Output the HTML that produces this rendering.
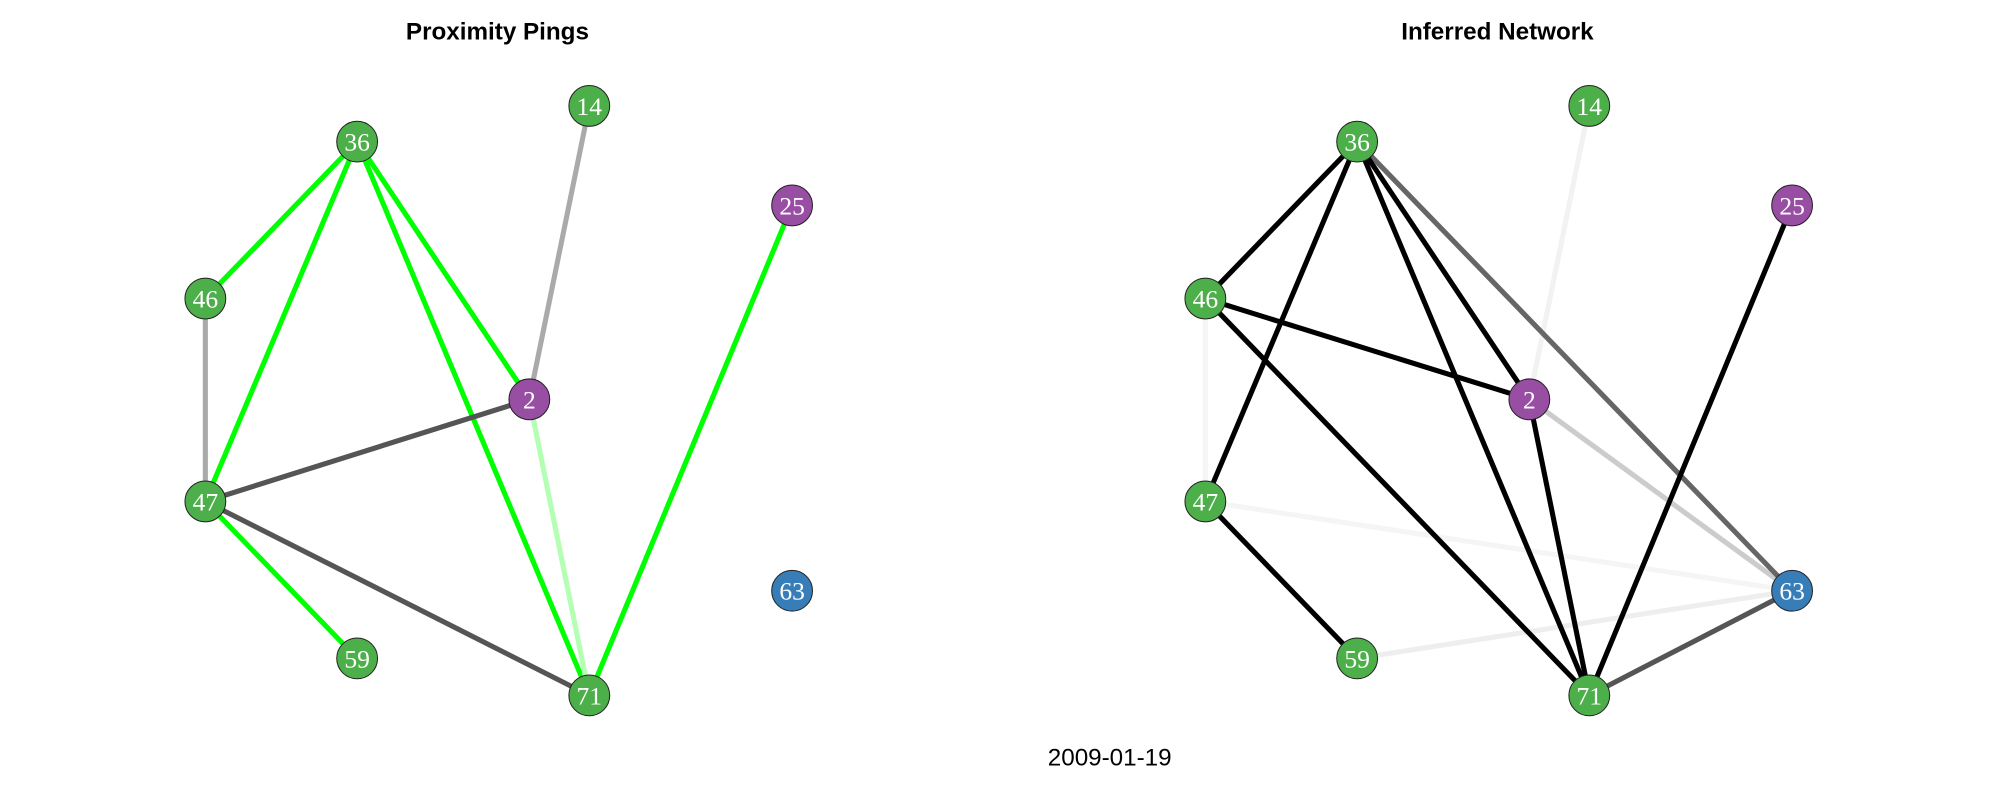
<!DOCTYPE html>
<html><head><meta charset="utf-8"><style>
html,body{margin:0;padding:0;background:#fff;}
svg{display:block;}
</style></head><body>
<svg id="chart" width="2000" height="800" viewBox="0 0 1568 627" preserveAspectRatio="none" xmlns="http://www.w3.org/2000/svg">
<text x="390" y="31" text-anchor="middle" font-family="Liberation Sans, sans-serif" font-weight="bold" font-size="19">Proximity Pings</text>
<text x="1174" y="31" text-anchor="middle" font-family="Liberation Sans, sans-serif" font-weight="bold" font-size="19">Inferred Network</text>
<text x="870" y="600" text-anchor="middle" font-family="Liberation Sans, sans-serif" font-size="19">2009-01-19</text>
<g id="left"></g>
<g id="right"></g>
</svg>
<script>
const nodeIds = ["36","14","25","46","2","47","63","59","71"];
const nodeX = [280,462,621,161,415,161,621,280,462];
const nodeY = [111,83,161,234,313,393,463,516,545];
const nodeColors = ["#4daf4a","#4daf4a","#984ea3","#4daf4a","#984ea3","#4daf4a","#377eb8","#4daf4a","#4daf4a"];
const leftEdges = [["36","46","#00ff00"],["36","47","#00ff00"],["36","2","#00ff00"],["36","71","#00ff00"],["46","47","#aaaaaa"],["14","2","#aaaaaa"],["2","47","#555555"],["2","71","#b3ffb3"],["25","71","#00ff00"],["47","71","#555555"],["47","59","#00ff00"]];
const rightEdges = [["46","47","#f5f5f5"],["14","2","#f2f2f2"],["47","63","#f5f5f5"],["59","63","#eeeeee"],["2","63","#cccccc"],["36","63","#666666"],["71","63","#555555"],["36","46","#000000"],["36","47","#000000"],["36","2","#000000"],["36","71","#000000"],["46","2","#000000"],["46","71","#000000"],["2","71","#000000"],["25","71","#000000"],["47","59","#000000"]];
const NS="http://www.w3.org/2000/svg";
function draw(gid, edges, off){
  const g=document.getElementById(gid);
  edges.forEach(e=>{
    const a=nodeIds.indexOf(e[0]), b=nodeIds.indexOf(e[1]);
    const l=document.createElementNS(NS,"line");
    
    
    l.setAttribute("x1",nodeX[a]+off);l.setAttribute("y1",nodeY[a]);
    l.setAttribute("x2",nodeX[b]+off);l.setAttribute("y2",nodeY[b]);
    l.setAttribute("stroke",e[2]);l.setAttribute("stroke-width","4");
    g.appendChild(l);
  });
  nodeIds.forEach((id,i)=>{
    const c=document.createElementNS(NS,"circle");
    
    
    c.setAttribute("cx",nodeX[i]+off);c.setAttribute("cy",nodeY[i]);c.setAttribute("r","16");
    c.setAttribute("fill",nodeColors[i]);c.setAttribute("stroke","#222");c.setAttribute("stroke-width","0.8");
    g.appendChild(c);
    const t=document.createElementNS(NS,"text");
    
    
    t.setAttribute("x",nodeX[i]+off);t.setAttribute("y",nodeY[i]+7);
    t.setAttribute("text-anchor","middle");t.setAttribute("fill","#fff");
    t.setAttribute("font-family","Liberation Serif, serif");t.setAttribute("font-size","20");
    t.textContent=id;g.appendChild(t);
  });
}
draw("left",leftEdges,0);
draw("right",rightEdges,784);
</script>
</body></html>
